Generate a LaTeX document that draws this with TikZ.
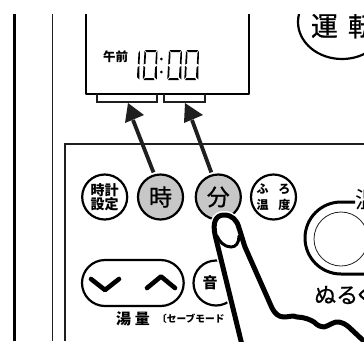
\documentclass[tikz,border=0pt]{standalone}
\usepackage{fontspec}
\setmainfont{Noto Sans CJK JP}
\newfontfamily\medf[FakeBold=0.7]{Noto Sans CJK JP}
\definecolor{btn}{gray}{0.78}
\definecolor{ink}{gray}{0.12}
\tikzset{
  x=1pt,y=-1pt,
  panelline/.style={draw=ink,line width=1.2pt},
  bracketline/.style={draw=ink,line width=2pt},
  pointer/.style={draw=ink,line width=3.8pt},
  pointerhead/.style={fill=ink,draw=none},
  roundbtn/.style={circle,draw=black,line width=2.2pt,fill=white,minimum size=45pt,inner sep=0pt,align=center},
  graybtn/.style={roundbtn,fill=btn},
  lbl/.style={inner sep=0pt,text=black},
  seg/.style={fill=black,draw=none},
  fingerline/.style={draw=black,line width=5pt,line join=round},
}
\newcommand{\rightsegs}{%
    \fill[seg] (15,.5)--(14.6,14.5)--(12.8,13.5)--(13.5,3)--cycle;
    \fill[seg] (14.5,16)--(14.3,29.5)--(12,27)--(12.6,17)--cycle;}
\newcommand{\onedigit}[2]{\begin{scope}[shift={(#1,#2)}]\rightsegs\end{scope}}
\newcommand{\zerodigit}[2]{%
  \begin{scope}[shift={(#1,#2)}]
    \rightsegs
    \fill[seg] (2.5,0)--(14,0)--(13,2)--(4,2)--cycle;
    \fill[seg] (1,30)--(12,30)--(11,28)--(2.5,28)--cycle;
    \fill[seg] (2,1)--(3.5,3)--(3,13.5)--(1.2,14.5)--cycle;
    \fill[seg] (1,16)--(2.6,17)--(2.2,27)--(0.3,29)--cycle;
  \end{scope}}
\begin{document}
\begin{tikzpicture}
\useasboundingbox (0,0) rectangle (364,341);
% side lines
\fill[black] (12.7,14) rectangle (16,341);
\draw[draw=ink,line width=1pt] (52.5,14) -- (52.5,341);
% display
\draw[draw=black,line width=1.6pt,line join=round] (85.7,14) -- (85.7,94) -- (248.7,94) -- (248.7,14);
\draw[bracketline] (97.3,93.5) -- (97.3,101.5) -- (156.7,101.5) -- (156.7,93.5);
\draw[bracketline] (164,93.5) -- (164,101.5) -- (204.7,101.5) -- (204.7,93.5);
\node[lbl,font=\fontsize{12.5}{12.5}\selectfont\bfseries] (ampm) at (115.5,56.5) {午前};
\onedigit{125}{50}
\zerodigit{142.5}{50}
\fill[black] (161.3,59) circle (1.5) (161.3,72) circle (1.5);
\zerodigit{167}{50}
\zerodigit{184}{50}
% run button
\begin{scope}
  \clip (290,14) rectangle (364,70);
  \draw[draw=black,line width=2.2pt] (342,22) ellipse[x radius=44,y radius=37];
  \node[lbl,font=\fontsize{27}{27}\selectfont\medf] (runa) at (324.5,26) {運};
  \node[lbl,font=\fontsize{27}{27}\selectfont\medf] (runb) at (361.5,26) {転};
\end{scope}
% panel
\draw[panelline] (364,144) -- (65,144) -- (65,341);
% buttons
\node[roundbtn,font=\fontsize{14}{13.5}\selectfont\bfseries] (settime) at (104.7,197) {時計\\設定};
\node[graybtn,font=\fontsize{23}{23}\selectfont\medf] (hour) at (160.5,197) {時};
\node[graybtn,font=\fontsize{23}{23}\selectfont\medf] (minute) at (218.3,197) {分};
\node[roundbtn,font=\fontsize{12}{16}\selectfont\bfseries] (bath) at (273.5,197) {ふ\hspace{10pt}ろ\\温\hspace{10pt}度};
% pointer arrows
\coordinate (hb) at (128,103);
\coordinate (mb) at (185,103);
\draw[pointer] (hour.north) ++(-7,-1) -- (133,120);
\fill[pointerhead] (hb) -- (144,115) -- (125,123) -- cycle;
\draw[pointer] (minute.north) ++(-7,-1) -- (192,120);
\fill[pointerhead] (mb) -- (203,115) -- (184,123) -- cycle;
% volume pill
\draw[draw=black,line width=2.2pt,fill=white,rounded corners=23pt] (82,260) rectangle (183.7,306);
\draw[draw=black,line width=4.6pt,line join=round,line cap=round] (91,279) -- (105,290) -- (119,279);
\draw[draw=black,line width=4.6pt,line join=round,line cap=round] (147,288) -- (161,276.5) -- (175,288);
\node[lbl,font=\fontsize{15}{15}\selectfont\bfseries] (yuryo) at (133,319) {湯\hspace{4pt}量};
\node[lbl,font=\fontsize{9.7}{9.7}\selectfont\bfseries,anchor=west] (save) at (157,318.5) {〔セーブモード};
% sound button
\node[roundbtn] (sound) at (216,283) {};
\node[lbl,font=\fontsize{15}{15}\selectfont\bfseries] (soundt) at (210,283) {音};
% big button
\draw[draw=black,line width=3pt] (355,202) -- (341,202) arc[start angle=-90,end angle=-270,radius=36] -- (364,274);
\draw[draw=ink,line width=0.8pt] (341,239) circle (27);
\node[lbl,font=\fontsize{23}{23}\selectfont] (warm) at (367,200) {温};
\node[lbl,font=\fontsize{22}{22}\selectfont\medf,anchor=west] (nuru) at (314,295) {ぬる\hspace{-4pt}く};
% finger
\def\fingerpath{(242,345) -- (215.3,236) .. controls (212,222) and (216,215) .. (224,215) .. controls (232,215) and (237,220) .. (239,228) .. controls (241,234) and (243,241) .. (245,247) -- (272,308) .. controls (275,314) and (279,317) .. (284,317) .. controls (289,317) and (293,315) .. (297,317) .. controls (304,317) and (311,320) .. (314,322) .. controls (318,326) and (321,327) .. (324,327) .. controls (329,326) and (334,321) .. (339,322) .. controls (345,323) and (349,327) .. (352,330) -- (368,345)}
\fill[white] \fingerpath -- cycle;
\draw[white,line width=8pt,line join=round] \fingerpath;
\draw[fingerline] \fingerpath;
\draw[draw=black,line width=3pt,line cap=round] (217,236) .. controls (219,241) and (224,247) .. (231,247) .. controls (236,247) and (239,243) .. (239,236);
\end{tikzpicture}
\end{document}
